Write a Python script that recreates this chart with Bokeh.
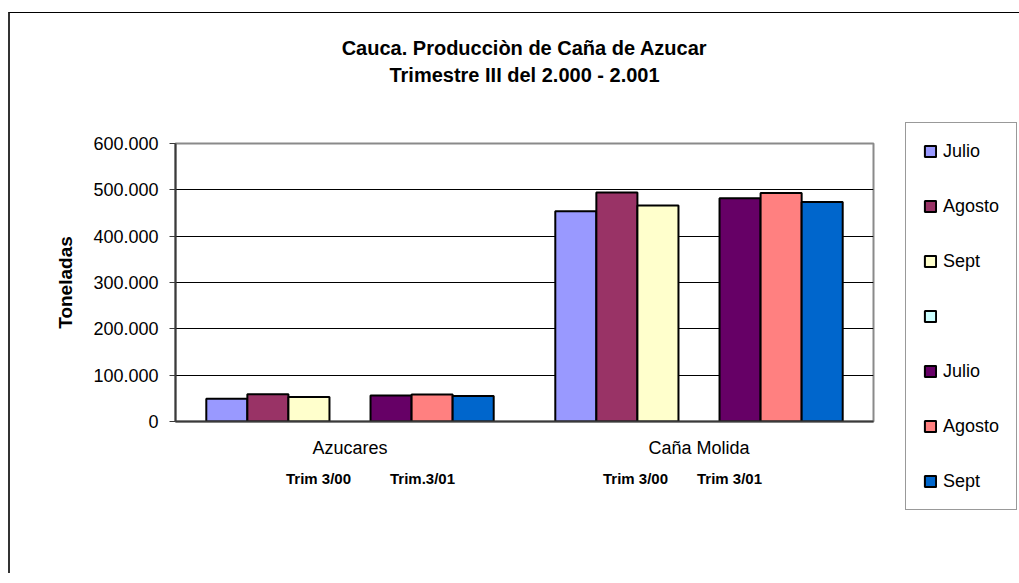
from bokeh.plotting import figure
from bokeh.models import (FactorRange, Range1d, Legend, LegendItem, LinearAxis, FixedTicker, Label,
                          SingleIntervalTicker, CustomJSTickFormatter, ColumnDataSource)
from bokeh.transform import dodge
from bokeh.embed import file_html
from bokeh.resources import INLINE

# ---------------- data ----------------
categories = ["Azucares", "Caña Molida"]
series_names = ["Julio", "Agosto", "Sept", "", "Julio", "Agosto", "Sept"]
series_colors = ["#9999FF", "#993366", "#FFFFCC", "#CCFFFF", "#660066", "#FF8080", "#0066CC"]
julio_00 = [49000, 454000]
agosto_00 = [59000, 494000]
sept_00 = [53000, 466000]
vacio = [float("nan"), float("nan")]
julio_01 = [56000, 482000]
agosto_01 = [58500, 493000]
sept_01 = [55000, 474000]
series_values = [julio_00, agosto_00, sept_00, vacio, julio_01, agosto_01, sept_01]
sub_labels = ["Trim 3/00", "Trim.3/01", "Trim 3/00", "Trim 3/01"]
title_lines = ["Cauca. Producciòn de Caña de Azucar", "Trimestre III del 2.000 - 2.001"]
y_label = "Toneladas"
y_max = 600000
y_step = 100000

FONT = "Liberation Sans"

# ---------------- layout ----------------
FRAME_LEFT, FRAME_TOP, FRAME_W, FRAME_H = 175, 143, 698, 278   # page px
CANVAS_X0, CANVAS_Y0 = 10, 13
LEG_LEFT, LEG_TOP = 905, 124
W, H = 1000, 560
FRAME_BOTTOM = FRAME_TOP + FRAME_H
FRAME_RIGHT = FRAME_LEFT + FRAME_W
sub_label_px = [318, 422, 635, 729]          # page x of the quarter captions
title_baselines = [47, 74.5]                 # page y of the two title lines


def page_x(px):
    return (px - FRAME_LEFT) / FRAME_W * len(categories)


def page_y(py):
    return (FRAME_BOTTOM - py) / FRAME_H * y_max


p = figure(x_range=FactorRange(factors=categories, range_padding=0),
           y_range=Range1d(0, y_max),
           frame_width=FRAME_W, frame_height=FRAME_H,
           min_border_left=FRAME_LEFT - CANVAS_X0,
           min_border_top=FRAME_TOP - CANVAS_Y0,
           min_border_right=W - (FRAME_LEFT - CANVAS_X0) - FRAME_W,
           min_border_bottom=H - (FRAME_TOP - CANVAS_Y0) - FRAME_H,
           output_backend="svg", toolbar_location=None)
p.styles = {"border-left": "2px solid #333333", "border-top": "1px solid #000000"}
p.margin = (12, 0, 0, 8)
p.background_fill_color = "white"
p.border_fill_color = "white"
p.outline_line_color = "#8a8a8a"
p.outline_line_width = 2

# title: two bold lines, placed in the top border panel (not clipped by the frame)
for txt, py in zip(title_lines, title_baselines):
    p.add_layout(Label(x=page_x(524), y=page_y(py), text=txt, text_align="center",
                       text_baseline="alphabetic", text_font=FONT, text_font_style="bold",
                       text_font_size="20px", text_color="black"), "above")

src = ColumnDataSource(dict(cat=categories, **{f"s{i}": v for i, v in enumerate(series_values)}))
n = len(series_names)
gap = 1.5
bw = 1.0 / (n + gap)
items = []
for i, (name, col) in enumerate(zip(series_names, series_colors)):
    off = -0.5 + (gap / 2 + i + 0.5) * bw
    r = p.vbar(x=dodge("cat", off, range=p.x_range), top=f"s{i}", width=bw, source=src,
               fill_color=col, line_color="black", line_width=2)
    items.append(LegendItem(label=name if name else " ", renderers=[r]))

# y axis
p.yaxis.ticker = SingleIntervalTicker(interval=y_step)
p.yaxis.formatter = CustomJSTickFormatter(
    code=r"return tick == 0 ? '0' : Math.round(tick).toString().replace(/\B(?=(\d{3})+(?!\d))/g, '.');")
p.yaxis.axis_label = y_label
p.yaxis.axis_label_text_font = FONT
p.yaxis.axis_label_text_font_style = "bold"
p.yaxis.axis_label_text_font_size = "19px"
p.yaxis.axis_label_text_color = "black"
p.yaxis.axis_label_standoff = 14
p.yaxis.major_label_text_font = FONT
p.yaxis.major_label_text_font_size = "18px"
p.yaxis.major_label_text_color = "black"
p.yaxis.major_tick_out = 6
p.yaxis.major_tick_in = 0
p.yaxis.minor_tick_line_color = None
p.yaxis.major_label_standoff = 11
p.yaxis.axis_line_color = "#3a3a3a"
p.yaxis.axis_line_width = 2
p.yaxis.major_tick_line_color = "#3a3a3a"

# x axis (categories)
p.xaxis.major_label_text_font = FONT
p.xaxis.major_label_text_font_size = "18px"
p.xaxis.major_label_text_color = "black"
p.xaxis.major_tick_line_color = None
p.xaxis.major_tick_out = 0
p.xaxis.major_label_standoff = 16
p.xaxis.axis_line_color = "#3a3a3a"
p.xaxis.axis_line_width = 2

# second row of x captions (quarters), positioned in the categorical synthetic coordinates
sub_ticks = [round(page_x(px), 4) for px in sub_label_px]
sub_map = {str(t): s for t, s in zip(sub_ticks, sub_labels)}
sub_axis = LinearAxis(ticker=FixedTicker(ticks=sub_ticks, minor_ticks=[]),
                      formatter=CustomJSTickFormatter(args=dict(m=sub_map),
                                                      code="return m[String(tick)] || '';"),
                      axis_line_color=None, major_tick_line_color=None, minor_tick_line_color=None,
                      major_tick_out=0, major_tick_in=0, major_label_standoff=9,
                      major_label_text_font=FONT, major_label_text_font_style="bold",
                      major_label_text_font_size="15px", major_label_text_color="black")
p.add_layout(sub_axis, "below")

p.xgrid.grid_line_color = None
p.ygrid.grid_line_color = "black"
p.ygrid.grid_line_width = 1

# ---------------- legend (right side panel, not clipped by the frame) ----------------
pad, lab_h, spc = 17, 22, 33
leg_h = 2 * pad + n * lab_h + (n - 1) * spc
legend = Legend(items=items, location=(LEG_LEFT - FRAME_RIGHT, FRAME_BOTTOM - LEG_TOP - leg_h),
                padding=pad, spacing=spc, label_height=lab_h, glyph_width=14, glyph_height=14,
                label_standoff=6, label_text_font=FONT, label_text_font_size="18px",
                label_text_color="black",
                border_line_color="#333333", border_line_width=1, margin=0,
                background_fill_color="white", background_fill_alpha=1.0)
try:
    legend.ncols = 1
except Exception:
    pass
p.add_layout(legend, "right")

open("out.html", "w").write(file_html(p, INLINE))
